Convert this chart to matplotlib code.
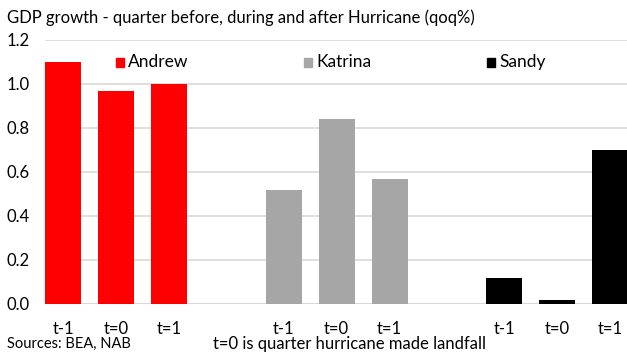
import matplotlib
matplotlib.use("Agg")
import matplotlib.pyplot as plt
from matplotlib.patches import Rectangle

plt.rcParams['font.family'] = ['Lato', 'DejaVu Sans']

quarters = ["t-1", "t=0", "t=1"]
hurricanes = ["Andrew", "Katrina", "Sandy"]
andrew = [1.10, 0.97, 1.00]
katrina = [0.52, 0.84, 0.57]
sandy = [0.12, 0.02, 0.70]
colors = ["#ff0000", "#a6a6a6", "#000000"]
yticks = [0.0, 0.2, 0.4, 0.6, 0.8, 1.0, 1.2]

W, H = 627, 353
fig = plt.figure(figsize=(W / 100, H / 100), dpi=100)
ax = fig.add_axes([45 / W, 1 - 304 / H, 1 - 45 / W, (304 - 40) / H])

group_step = 4.16
bar_w = 0.68
xs_all, labels_all = [], []
for g, (name, vals, col) in enumerate(zip(hurricanes, [andrew, katrina, sandy], colors)):
    xs = [g * group_step + i for i in range(len(quarters))]
    ax.bar(xs, vals, width=bar_w, color=col, zorder=3)
    xs_all += xs
    labels_all += quarters

ax.set_xlim(-0.34, 10.64)
ax.set_ylim(0, 1.2)
ax.set_yticks(yticks)
ax.set_yticklabels([f"{v:.1f}" for v in yticks])
ax.set_xticks(xs_all)
ax.set_xticklabels(labels_all)
ax.tick_params(axis='both', length=0, labelsize=12, colors='#000000')
ax.tick_params(axis='x', pad=12)
ax.tick_params(axis='y', pad=11)
ax.grid(axis='y', color='#d9d9d9', linewidth=1.2, zorder=0)
for s in ax.spines.values():
    s.set_visible(False)
ax.axhline(0, color='#d9d9d9', linewidth=1.5, zorder=2)

# legend entries across the top of the plot
legend_px = [(116, "Andrew"), (304, "Katrina"), (487, "Sandy")]
for (px, name), col in zip(legend_px, colors):
    fig.patches.append(Rectangle((px / W, 1 - 67 / H), 8 / W, 9 / H,
                                 transform=fig.transFigure, color=col))
    fig.text((px + 12) / W, 1 - 62 / H, name, fontsize=12.5, va='center', ha='left')

fig.text(7 / W, 1 - 18 / H, "GDP growth - quarter before, during and after Hurricane (qoq%)",
         fontsize=12, va='center', ha='left')
fig.text(349 / W, 1 - 344 / H, "t=0 is quarter hurricane made landfall",
         fontsize=12, va='center', ha='center')
fig.text(7 / W, 2 / H, "Sources: BEA, NAB", fontsize=10.5, va='bottom', ha='left')

fig.savefig("out.png", dpi=100)
